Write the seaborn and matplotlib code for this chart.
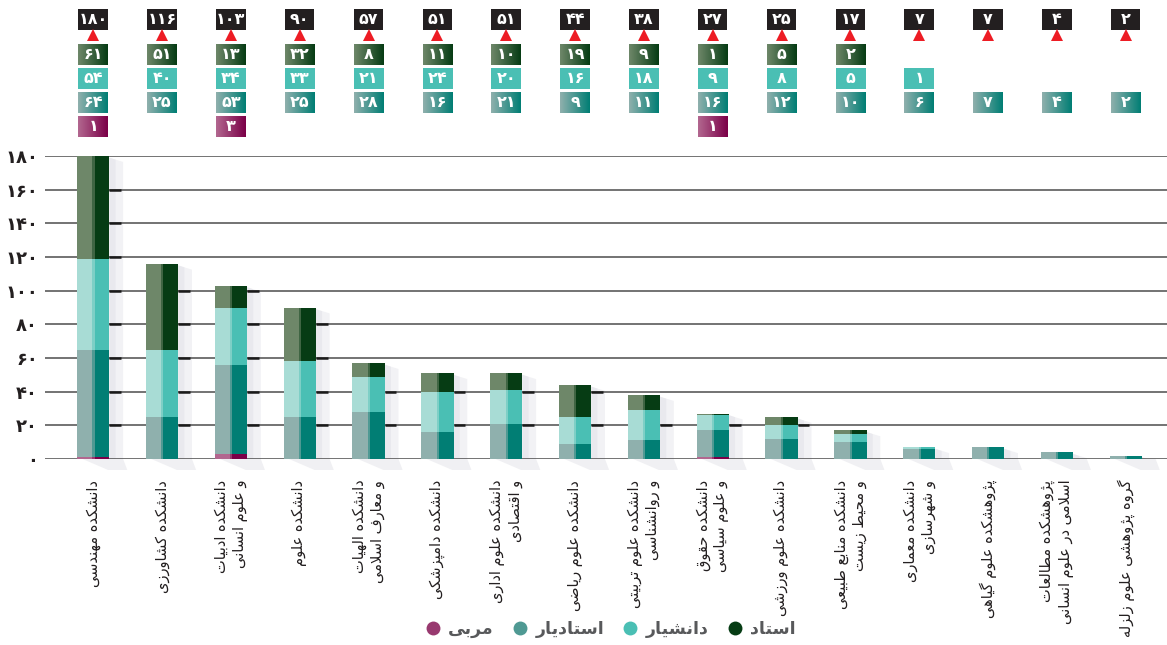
import matplotlib
matplotlib.use('Agg')
import matplotlib.pyplot as plt
from matplotlib.colors import LinearSegmentedColormap
from matplotlib.lines import Line2D
from matplotlib.patches import Polygon, Rectangle
import numpy as np
import seaborn as sns

faculties = [
    'دانشکده مهندسی',
    'دانشکده کشاورزی',
    'دانشکده ادبیات\nو علوم انسانی',
    'دانشکده علوم',
    'دانشکده الهیات\nو معارف اسلامی',
    'دانشکده دامپزشکی',
    'دانشکده علوم اداری\nو اقتصادی',
    'دانشکده علوم ریاضی',
    'دانشکده علوم تربیتی\nو روانشناسی',
    'دانشکده حقوق\nو علوم سیاسی',
    'دانشکده علوم ورزشی',
    'دانشکده منابع طبیعی\nو محیط زیست',
    'دانشکده معماری\nو شهرسازی',
    'پژوهشکده علوم گیاهی',
    'پژوهشکده مطالعات\nاسلامی در علوم انسانی',
    'گروه پژوهشی علوم زلزله',
]
ostad = [61, 51, 13, 32, 8, 11, 10, 19, 9, 1, 5, 2, 0, 0, 0, 0]
daneshyar = [54, 40, 34, 33, 21, 24, 20, 16, 18, 9, 8, 5, 1, 0, 0, 0]
ostadyar = [64, 25, 53, 25, 28, 16, 21, 9, 11, 16, 12, 10, 6, 7, 4, 2]
morabi = [1, 0, 3, 0, 0, 0, 0, 0, 0, 1, 0, 0, 0, 0, 0, 0]
legend_names = ['مربی', 'استادیار', 'دانشیار', 'استاد']
y_ticks = [0, 20, 40, 60, 80, 100, 120, 140, 160, 180]

# light / dark tone of each rank
c_ostad = ('#6e8769', '#063c14')
c_daneshyar = ('#a8dcd5', '#4abfb4')
c_ostadyar = ('#8fb0ad', '#017e74')
c_morabi = ('#b2678f', '#7b0048')

# --- tiny arabic/persian shaper (matplotlib has no text shaping) ---
FORMS = {
    '\u0627': (0xFE8D, 0xFE8E, None, None),
    '\u0628': (0xFE8F, 0xFE90, 0xFE91, 0xFE92),
    '\u062A': (0xFE95, 0xFE96, 0xFE97, 0xFE98),
    '\u062D': (0xFEA1, 0xFEA2, 0xFEA3, 0xFEA4),
    '\u062F': (0xFEA9, 0xFEAA, None, None),
    '\u0631': (0xFEAD, 0xFEAE, None, None),
    '\u0632': (0xFEAF, 0xFEB0, None, None),
    '\u0633': (0xFEB1, 0xFEB2, 0xFEB3, 0xFEB4),
    '\u0634': (0xFEB5, 0xFEB6, 0xFEB7, 0xFEB8),
    '\u0635': (0xFEB9, 0xFEBA, 0xFEBB, 0xFEBC),
    '\u0636': (0xFEBD, 0xFEBE, 0xFEBF, 0xFEC0),
    '\u0637': (0xFEC1, 0xFEC2, 0xFEC3, 0xFEC4),
    '\u0639': (0xFEC9, 0xFECA, 0xFECB, 0xFECC),
    '\u0641': (0xFED1, 0xFED2, 0xFED3, 0xFED4),
    '\u0642': (0xFED5, 0xFED6, 0xFED7, 0xFED8),
    '\u0643': (0xFED9, 0xFEDA, 0xFEDB, 0xFEDC),
    '\u0644': (0xFEDD, 0xFEDE, 0xFEDF, 0xFEE0),
    '\u0645': (0xFEE1, 0xFEE2, 0xFEE3, 0xFEE4),
    '\u0646': (0xFEE5, 0xFEE6, 0xFEE7, 0xFEE8),
    '\u0647': (0xFEE9, 0xFEEA, 0xFEEB, 0xFEEC),
    '\u0648': (0xFEED, 0xFEEE, None, None),
    '\u064A': (0xFEF1, 0xFEF2, 0xFEF3, 0xFEF4),
    '\u067E': (0xFB56, 0xFB57, 0xFB58, 0xFB59),
    '\u0698': (0xFB8A, 0xFB8B, None, None),
    '\u06A9': (0xFB8E, 0xFB8F, 0xFB90, 0xFB91),
    '\u06AF': (0xFB92, 0xFB93, 0xFB94, 0xFB95),
    '\u06CC': (0xFBFC, 0xFBFD, 0xFBFE, 0xFBFF),
}


def joins_next(c):
    return c in FORMS and FORMS[c][2] is not None


def shape_line(s):
    out = []
    prev = None
    i = 0
    while i < len(s):
        c = s[i]
        if c not in FORMS:
            out.append(c)
            prev = None
            i += 1
            continue
        link_prev = prev is not None and joins_next(prev)
        if c == '\u0644' and i + 1 < len(s) and s[i + 1] == '\u0627':
            out.append(chr(0xFEFC if link_prev else 0xFEFB))
            prev = '\u0627'
            i += 2
            continue
        link_next = joins_next(c) and i + 1 < len(s) and s[i + 1] in FORMS
        f = FORMS[c]
        if link_prev and link_next:
            g = f[3]
        elif link_prev:
            g = f[1]
        elif link_next:
            g = f[2]
        else:
            g = f[0]
        out.append(chr(g))
        prev = c
        i += 1
    return ''.join(reversed(out))


def shape(s):
    return '\n'.join(shape_line(l) for l in s.split('\n'))


FA = str.maketrans('0123456789', '۰۱۲۳۴۵۶۷۸۹')


def fa(v):
    return str(v).translate(FA)


sns.set_theme(style='white')
plt.rcParams['font.family'] = ['DejaVu Sans']

W, H = 1167, 645
fig = plt.figure(figsize=(W / 100, H / 100), dpi=100)
ax = fig.add_axes([45 / W, (H - 459) / H, (W - 45) / W, (459 - 156) / H])
tax = fig.add_axes([45 / W, (H - 145) / H, (W - 45) / W, 145 / H])

n = len(faculties)
pos = np.arange(n)
w = 0.47
xlim = (-0.70, 15.6)

c1 = np.array(morabi)
c2 = c1 + np.array(ostadyar)
c3 = c2 + np.array(daneshyar)
c4 = c3 + np.array(ostad)

# soft shadows behind bars
sw = 0.2
for i in range(n):
    top = c4[i]
    xr = i + w / 2
    xl = i - w / 2
    ax.add_patch(Polygon([(xr, top - 1), (xr + sw, top - 3.5), (xr + sw, 0), (xr, 0)],
                         closed=True, color='#f2f2f5', lw=0, zorder=1))
    ax.add_patch(Polygon([(xr, top - 1), (xr + sw * 0.45, top - 2.2), (xr + sw * 0.45, 0), (xr, 0)],
                         closed=True, color='#e9e9ee', lw=0, zorder=1))
    ax.add_patch(Polygon([(xl + 0.08, 0), (xr + sw, 0), (xr + sw + 0.06, -6.5), (xl + 0.45, -6.5)],
                         closed=True, color='#f0f0f3', lw=0, zorder=1, clip_on=False))
    for t in y_ticks:
        if 0 < t < top:
            ax.plot([xr, xr + sw * 0.85], [t, t], color='#1a1a1a', lw=1.8, zorder=2.5,
                    solid_capstyle='butt')

for t in y_ticks:
    ax.axhline(t, color='#4d4d4d', lw=1.1, zorder=2)

# stacked bars, light full bar + dark right half
layers = [(c4, c_ostad), (c3, c_daneshyar), (c2, c_ostadyar), (c1, c_morabi)]
for cum, (light, dark) in layers:
    sns.barplot(x=faculties, y=cum, color=light, width=w, saturation=1, errorbar=None,
                ax=ax, zorder=3, linewidth=0)
    mid = LinearSegmentedColormap.from_list('m', [light, dark])(0.45)
    ax.bar(pos + 0.005, cum, width=0.03, color=mid, linewidth=0, zorder=3)
    ax.bar(pos + w / 4 + 0.01, cum, width=w / 2 - 0.02, color=dark, linewidth=0, zorder=3)

ax.set_xlim(*xlim)
ax.set_ylim(0, 180)
ax.set_yticks(y_ticks)
ax.set_yticklabels([fa(t) for t in y_ticks], fontsize=13, fontweight='bold', color='#231f20')
ax.set_xticks(pos)
ax.set_xticklabels([shape(f) for f in faculties], rotation=90, va='top', ha='center',
                   multialignment='right', fontsize=10.5, color='#231f20')
ax.tick_params(axis='x', length=0, pad=15)
ax.tick_params(axis='y', length=0, pad=5)
ax.set_xlabel('')
ax.set_ylabel('')
for s in ax.spines.values():
    s.set_visible(False)

# top table of numbers
bw = 0.43
bh = 21
grad = np.linspace(0, 1, 64).reshape(1, -1)
rows = [(ostad, c_ostad, 54.5), (daneshyar, ('#4abfb4', '#4abfb4'), 78.5),
        (ostadyar, ('#8fb0ad', '#017e74'), 102.8), (morabi, c_morabi, 126.8)]
for i in range(n):
    tax.add_patch(Rectangle((i - bw / 2, 19.5 - bh / 2), bw, bh, color='#231f20', lw=0))
    tax.text(i, 19.5, fa(c4[i]), ha='center', va='center', color='white',
             fontsize=11.5, fontweight='bold')
    tax.plot(i, 35.5, marker='^', color='#ed1c24', markersize=8, markeredgewidth=0)
    for vals, (light, dark), yc in rows:
        if vals[i] <= 0:
            continue
        cmap = LinearSegmentedColormap.from_list('g', [light, dark])
        tax.imshow(grad, cmap=cmap, aspect='auto', interpolation='bilinear',
                   extent=[i - bw / 2, i + bw / 2, yc + bh / 2, yc - bh / 2])
        tax.text(i, yc, fa(vals[i]), ha='center', va='center', color='white',
                 fontsize=11.5, fontweight='bold')
tax.set_xlim(*xlim)
tax.set_ylim(145, 0)
tax.axis('off')

# legend
leg_colors = ['#98396f', '#4f9993', '#4abfb4', '#063c14']
handles = [Line2D([], [], marker='o', linestyle='', markersize=10, markerfacecolor=c,
                  markeredgewidth=0) for c in leg_colors]
fig.legend(handles, [shape(l) for l in legend_names], loc='center', ncol=4,
           bbox_to_anchor=(610 / W, (H - 629) / H), frameon=False, handletextpad=0.4,
           handlelength=1.0, columnspacing=1.0, prop={'size': 12.5, 'weight': 'bold'},
           labelcolor='#58595b')

fig.savefig('out.png', dpi=100)
